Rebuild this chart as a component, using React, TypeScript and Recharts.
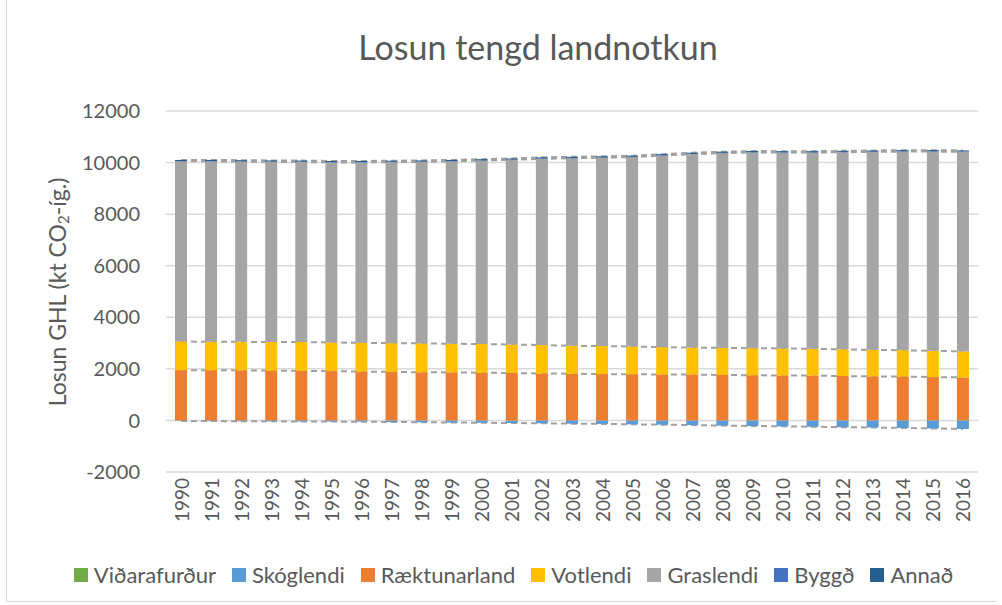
import React from 'react';
import { ComposedChart, Bar, Line, XAxis, YAxis, CartesianGrid } from 'recharts';

const years = ['1990','1991','1992','1993','1994','1995','1996','1997','1998','1999','2000','2001','2002','2003','2004','2005','2006','2007','2008','2009','2010','2011','2012','2013','2014','2015','2016'];
const vidarafurdur = [2,2,2,2,2,2,2,2,2,2,2,2,2,2,2,2,2,2,2,2,2,2,2,2,2,2,2];
const skoglendi = [-20,-25,-30,-35,-40,-45,-50,-60,-70,-80,-90,-100,-110,-125,-135,-150,-165,-180,-200,-215,-230,-245,-260,-275,-290,-310,-330];
const raektunarland = [1950,1945,1940,1930,1920,1910,1895,1880,1865,1860,1850,1835,1820,1810,1795,1790,1780,1775,1760,1750,1740,1735,1720,1705,1700,1680,1665];
const votlendi = [1110,1100,1105,1110,1115,1110,1115,1115,1120,1110,1110,1110,1100,1080,1085,1075,1060,1050,1050,1050,1050,1040,1035,1030,1020,1020,1005];
const graslendi = [6985,7000,6990,6985,6985,6985,6995,7020,7040,7075,7115,7160,7225,7275,7305,7345,7430,7500,7555,7590,7595,7610,7645,7675,7705,7725,7745];
const byggd = [15,15,15,15,15,15,15,15,15,15,15,15,15,15,15,15,15,15,15,15,15,15,15,15,15,15,15];
const annad = [40,40,40,40,40,40,40,40,40,40,40,40,40,40,40,40,40,40,40,40,40,40,40,40,40,40,40];
const yTicks = [-2000, 0, 2000, 4000, 6000, 8000, 10000, 12000];

const series = [
  { key: 'vid', name: 'Viðarafurður', color: '#70ad47', values: vidarafurdur },
  { key: 'skog', name: 'Skóglendi', color: '#5b9bd5', values: skoglendi },
  { key: 'raekt', name: 'Ræktunarland', color: '#ed7d31', values: raektunarland },
  { key: 'vot', name: 'Votlendi', color: '#ffc000', values: votlendi },
  { key: 'gras', name: 'Graslendi', color: '#a5a5a5', values: graslendi },
  { key: 'byggd', name: 'Byggð', color: '#4472c4', values: byggd },
  { key: 'annad', name: 'Annað', color: '#255e91', values: annad },
];

const data = years.map((year, i) => {
  const row: any = { year };
  series.forEach((s) => { row[s.key] = s.values[i]; });
  row.lBottom = skoglendi[i];
  row.lRaekt = vidarafurdur[i] + raektunarland[i];
  row.lVot = row.lRaekt + votlendi[i];
  row.lGras = row.lVot + graslendi[i];
  row.lTop = row.lGras + byggd[i] + annad[i];
  return row;
});

const FONT = 'Lato, "Open Sans", sans-serif';
const TXT = '#595959';

const XTick = (props: any) => {
  const { x, y, payload } = props;
  return (
    <text x={x} y={y} transform={`rotate(-90, ${x}, ${y})`} textAnchor="end" dominantBaseline="central"
      fontSize={19} fill={TXT} fontFamily={FONT}>{payload.value}</text>
  );
};

const lineKeys = ['lBottom', 'lRaekt', 'lVot', 'lGras', 'lTop'];

export default function App() {
  return (
    <div style={{ position: 'absolute', left: 0, top: 0, width: 1002, height: 605, background: '#fff', overflow: 'hidden' }}>
      <div style={{ position: 'absolute', left: 6, top: -2, width: 990, height: 604, borderLeft: '1.5px solid #d9d9d9', borderBottom: '1.5px solid #d9d9d9', boxSizing: 'border-box' }} />
      <div style={{ position: 'absolute', left: 0, width: 1076, top: 26, textAlign: 'center', fontFamily: FONT, fontSize: 34, color: TXT }}>
        Losun tengd landnotkun
      </div>
      <svg style={{ position: 'absolute', left: 0, top: 0 }} width={120} height={605}>
        <text x={57} y={292} transform="rotate(-90, 57, 292)" textAnchor="middle" dominantBaseline="central"
          fontSize={23} fill={TXT} fontFamily={FONT}>
          Losun GHL (kt CO<tspan fontSize={15} dy={6}>2</tspan><tspan dy={-6}>-íg.)</tspan>
        </text>
      </svg>
      <div style={{ position: 'absolute', left: 0, top: 0 }}>
        <ComposedChart width={1002} height={605} data={data} stackOffset="sign"
          margin={{ top: 111, right: 24, bottom: 0, left: 16 }}>
          <CartesianGrid vertical={false} stroke="#d9d9d9" strokeWidth={1.5} />
          <YAxis domain={[-2000, 12000]} ticks={yTicks} width={150} axisLine={false} tickLine={false}
            tickSize={0} tickMargin={26} interval={0}
            tick={{ fontSize: 20, fill: TXT, fontFamily: FONT }} />
          <XAxis dataKey="year" axisLine={false} tickLine={false} tickSize={0} tickMargin={6} interval={0}
            tick={<XTick />} height={133} />
          {lineKeys.map((k) => (
            <Line key={k} dataKey={k} type="linear" stroke="#a0a0a0" strokeWidth={2} strokeDasharray="6 4"
              dot={false} activeDot={false} isAnimationActive={false} legendType="none" zIndex={250} />
          ))}
          {series.map((s) => (
            <Bar key={s.key} dataKey={s.key} name={s.name} stackId="a" fill={s.color} barSize={12}
              isAnimationActive={false} />
          ))}
        </ComposedChart>
      </div>
      <div style={{ position: 'absolute', left: 0, width: 1027, top: 561, display: 'flex', justifyContent: 'center', gap: 16, fontFamily: FONT, fontSize: 22, color: TXT }}>
        {series.map((s) => (
          <div key={s.key} style={{ display: 'flex', alignItems: 'center' }}>
            <span style={{ width: 14, height: 14, background: s.color, display: 'inline-block', marginRight: 6 }} />
            <span>{s.name}</span>
          </div>
        ))}
      </div>
    </div>
  );
}
